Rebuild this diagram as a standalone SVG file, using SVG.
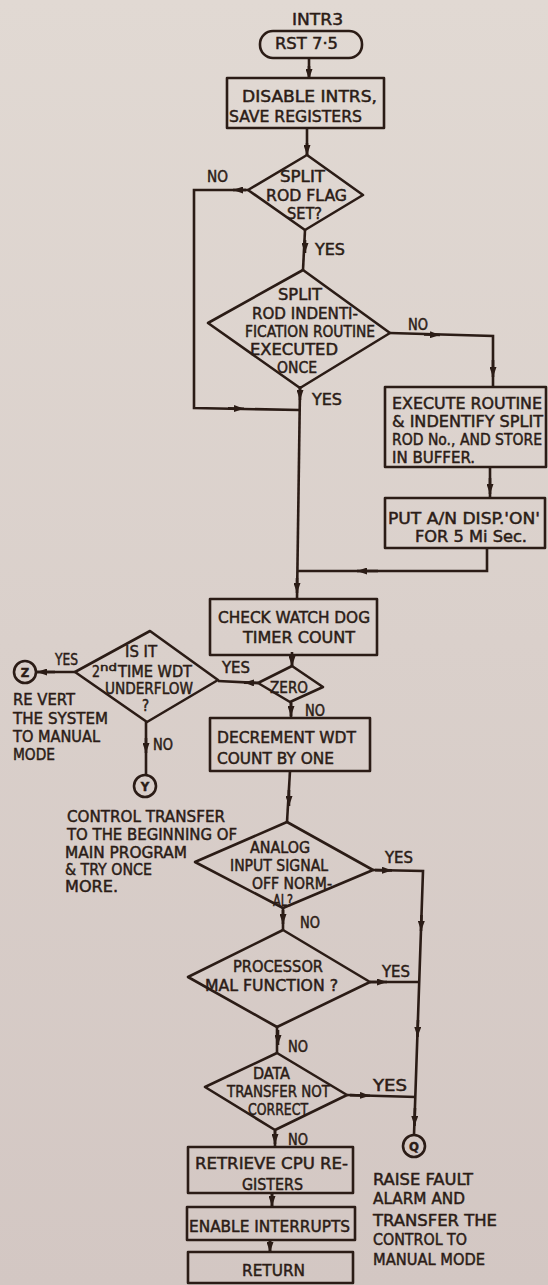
<svg xmlns="http://www.w3.org/2000/svg" width="548" height="1285" viewBox="0 0 548 1285">
<defs>
<linearGradient id="bg" x1="0" y1="0" x2="0" y2="1">
<stop offset="0" stop-color="#e1d9d3"/>
<stop offset="1" stop-color="#d3c7c3"/>
</linearGradient>
<marker id="ah" markerWidth="10" markerHeight="7" refX="10" refY="3.5" orient="auto" markerUnits="userSpaceOnUse">
<path d="M0,0 L10,3.5 L0,7 z" fill="#2b1c16"/>
</marker>
<style>
.s{fill:none;stroke:#2b1c16;stroke-width:2.6;stroke-linejoin:round}
.l{fill:none;stroke:#2b1c16;stroke-width:2.6}
.a{fill:none;stroke:#2b1c16;stroke-width:2.6;marker-end:url(#ah)}
text{font-family:"DejaVu Sans Condensed","DejaVu Sans",sans-serif;font-size:16px;fill:#2b1c16;stroke:#2b1c16;stroke-width:0.45}
.m{font-size:15px}
.d{font-size:15px}
.c{font-size:13px;font-weight:bold}
</style>
</defs>
<rect x="0" y="0" width="548" height="1285" fill="url(#bg)"/>

<g id="start">
<text x="292" y="25" textLength="51" lengthAdjust="spacingAndGlyphs">INTR3</text>
<rect class="s" x="260" y="31" width="102" height="27" rx="13"/>
<text x="275" y="49" textLength="63" lengthAdjust="spacingAndGlyphs">RST 7·5</text>
</g>

<g id="disable">
<rect class="s" x="227" y="78" width="157" height="50"/>
<text x="242" y="102" textLength="135" lengthAdjust="spacingAndGlyphs">DISABLE INTRS,</text>
<text x="229" y="122" textLength="133" lengthAdjust="spacingAndGlyphs">SAVE REGISTERS</text>
</g>

<g id="d_flag">
<polygon class="s" points="307,155 363,195 305,230 248,190"/>
<text class="d" x="280" y="182" textLength="45" lengthAdjust="spacingAndGlyphs">SPLIT</text>
<text class="d" x="266" y="201" textLength="81" lengthAdjust="spacingAndGlyphs">ROD FLAG</text>
<text class="d" x="287" y="219" textLength="35" lengthAdjust="spacingAndGlyphs">SET?</text>
</g>

<g id="d_ident">
<polygon class="s" points="303,270 390,333 300,388 208,323"/>
<text class="d" x="278" y="300" textLength="44" lengthAdjust="spacingAndGlyphs">SPLIT</text>
<text class="d" x="252" y="319" textLength="106" lengthAdjust="spacingAndGlyphs">ROD INDENTI-</text>
<text class="d" x="245" y="337" textLength="130" lengthAdjust="spacingAndGlyphs">FICATION ROUTINE</text>
<text class="d" x="250" y="355" textLength="88" lengthAdjust="spacingAndGlyphs">EXECUTED</text>
<text class="d" x="277" y="373" textLength="40" lengthAdjust="spacingAndGlyphs">ONCE</text>
</g>

<g id="execute">
<rect class="s" x="385" y="387" width="161" height="80"/>
<text x="392" y="409" textLength="150" lengthAdjust="spacingAndGlyphs">EXECUTE ROUTINE</text>
<text x="392" y="427" textLength="151" lengthAdjust="spacingAndGlyphs">&amp; INDENTIFY SPLIT</text>
<text x="392" y="445" textLength="150" lengthAdjust="spacingAndGlyphs">ROD No., AND STORE</text>
<text x="392" y="463" textLength="83" lengthAdjust="spacingAndGlyphs">IN BUFFER.</text>
</g>

<g id="put">
<rect class="s" x="385" y="498" width="160" height="50"/>
<text x="388" y="524" textLength="152" lengthAdjust="spacingAndGlyphs">PUT A/N DISP.'ON'</text>
<text x="415" y="542" textLength="112" lengthAdjust="spacingAndGlyphs">FOR 5 Mi Sec.</text>
</g>

<g id="check">
<rect class="s" x="210" y="599" width="167" height="56"/>
<text x="218" y="623" textLength="152" lengthAdjust="spacingAndGlyphs">CHECK WATCH DOG</text>
<text x="243" y="643" textLength="112" lengthAdjust="spacingAndGlyphs">TIMER COUNT</text>
</g>

<g id="d_zero">
<polygon class="s" points="292,666 323,687 290,702 258,683"/>
<text class="d" x="270" y="693" textLength="38" lengthAdjust="spacingAndGlyphs">ZERO</text>
</g>

<g id="d_2nd">
<polygon class="s" points="150,631 218,680 147,722 75,672"/>
<text class="d" x="125" y="657" textLength="32" lengthAdjust="spacingAndGlyphs">IS IT</text>
<text class="d" x="92" y="677" textLength="8" lengthAdjust="spacingAndGlyphs">2</text>
<text x="100" y="671" style="font-size:11px" textLength="17" lengthAdjust="spacingAndGlyphs">nd</text>
<text class="d" x="118" y="677" textLength="74" lengthAdjust="spacingAndGlyphs">TIME WDT</text>
<text class="d" x="105" y="694" textLength="88" lengthAdjust="spacingAndGlyphs">UNDERFLOW</text>
<text class="d" x="142" y="711">?</text>
</g>

<g id="conn_z">
<circle class="s" cx="25" cy="672" r="11"/>
<text class="c" x="25" y="677" text-anchor="middle">Z</text>
<text x="13" y="705" textLength="62" lengthAdjust="spacingAndGlyphs">RE VERT</text>
<text x="13" y="724" textLength="95" lengthAdjust="spacingAndGlyphs">THE SYSTEM</text>
<text x="13" y="742" textLength="87" lengthAdjust="spacingAndGlyphs">TO MANUAL</text>
<text x="13" y="760" textLength="42" lengthAdjust="spacingAndGlyphs">MODE</text>
</g>

<g id="conn_y">
<circle class="s" cx="145" cy="786" r="11"/>
<text class="c" x="145" y="791" text-anchor="middle">Y</text>
<text x="67" y="822" textLength="158" lengthAdjust="spacingAndGlyphs">CONTROL TRANSFER</text>
<text x="67" y="840" textLength="170" lengthAdjust="spacingAndGlyphs">TO THE BEGINNING OF</text>
<text x="65" y="858" textLength="122" lengthAdjust="spacingAndGlyphs">MAIN PROGRAM</text>
<text x="65" y="875" textLength="87" lengthAdjust="spacingAndGlyphs">&amp; TRY ONCE</text>
<text x="65" y="892" textLength="53" lengthAdjust="spacingAndGlyphs">MORE.</text>
</g>

<g id="decrement">
<rect class="s" x="210" y="718" width="160" height="53"/>
<text x="217" y="743" textLength="139" lengthAdjust="spacingAndGlyphs">DECREMENT WDT</text>
<text x="217" y="764" textLength="117" lengthAdjust="spacingAndGlyphs">COUNT BY ONE</text>
</g>

<g id="d_analog">
<polygon class="s" points="287,822 373,870 283,908 195,862"/>
<text class="d" x="250" y="853" textLength="60" lengthAdjust="spacingAndGlyphs">ANALOG</text>
<text class="d" x="230" y="871" textLength="98" lengthAdjust="spacingAndGlyphs">INPUT SIGNAL</text>
<text class="d" x="252" y="889" textLength="80" lengthAdjust="spacingAndGlyphs">OFF NORM-</text>
<text class="d" x="273" y="906" textLength="20" lengthAdjust="spacingAndGlyphs">AL?</text>
</g>

<g id="d_proc">
<polygon class="s" points="283,930 370,982 277,1027 188,977"/>
<text x="233" y="972" textLength="90" lengthAdjust="spacingAndGlyphs">PROCESSOR</text>
<text x="205" y="991" textLength="133" lengthAdjust="spacingAndGlyphs">MAL FUNCTION ?</text>
</g>

<g id="d_data">
<polygon class="s" points="277,1053 347,1095 275,1130 205,1087"/>
<text class="d" x="253" y="1079" textLength="37" lengthAdjust="spacingAndGlyphs">DATA</text>
<text class="d" x="227" y="1097" textLength="103" lengthAdjust="spacingAndGlyphs">TRANSFER NOT</text>
<text class="d" x="248" y="1115" textLength="60" lengthAdjust="spacingAndGlyphs">CORRECT</text>
</g>

<g id="conn_q">
<circle class="s" cx="414" cy="1146" r="11"/>
<text class="c" x="414" y="1151" text-anchor="middle">Q</text>
<text x="373" y="1185" textLength="100" lengthAdjust="spacingAndGlyphs">RAISE FAULT</text>
<text x="373" y="1204" textLength="92" lengthAdjust="spacingAndGlyphs">ALARM AND</text>
<text x="373" y="1226" textLength="124" lengthAdjust="spacingAndGlyphs">TRANSFER THE</text>
<text x="373" y="1245" textLength="94" lengthAdjust="spacingAndGlyphs">CONTROL TO</text>
<text x="373" y="1265" textLength="112" lengthAdjust="spacingAndGlyphs">MANUAL MODE</text>
</g>

<g id="retrieve">
<rect class="s" x="188" y="1147" width="165" height="46"/>
<text x="195" y="1169" textLength="153" lengthAdjust="spacingAndGlyphs">RETRIEVE CPU RE-</text>
<text x="242" y="1190" textLength="61" lengthAdjust="spacingAndGlyphs">GISTERS</text>
</g>

<g id="enable">
<rect class="s" x="187" y="1207" width="168" height="33"/>
<text x="189" y="1232" textLength="161" lengthAdjust="spacingAndGlyphs">ENABLE INTERRUPTS</text>
</g>

<g id="return">
<rect class="s" x="188" y="1252" width="165" height="31"/>
<text x="242" y="1276" textLength="63" lengthAdjust="spacingAndGlyphs">RETURN</text>
</g>

<g id="connectors">
<path class="l" d="M309,58 V78"/>
<path class="l" d="M307,128 V155"/>
<path class="l" d="M248,190 H194 V408 L299,410"/>
<path class="l" d="M305,230 L303,270"/>
<path class="l" d="M390,333 L493,336 V387"/>
<path class="l" d="M300,388 L297,599"/>
<path class="l" d="M490,467 V498"/>
<path class="l" d="M487,548 V571 H297"/>
<path class="l" d="M292,655 V666"/>
<path class="l" d="M258,683 L218,681"/>
<path class="l" d="M291,702 V718"/>
<path class="l" d="M75,672 H36"/>
<path class="l" d="M146,722 V775"/>
<path class="l" d="M290,771 L287,822"/>
<path class="l" d="M373,870 L423,871 L414,1135"/>
<path class="l" d="M283,908 V930"/>
<path class="l" d="M370,982 L418,982"/>
<path class="l" d="M277,1027 V1053"/>
<path class="l" d="M347,1095 L416,1097"/>
<path class="l" d="M275,1130 V1147"/>
<path class="l" d="M272,1193 V1207"/>
<path class="l" d="M270,1240 V1252"/>

<path class="a" d="M309,66 V79"/>
<path class="a" d="M307,143 V155"/>
<path class="a" d="M246,190 H233"/>
<path class="a" d="M228,408.4 L244,408.7"/>
<path class="a" d="M305,240 V253"/>
<path class="a" d="M424,334.5 L440,335"/>
<path class="a" d="M493,360 V377"/>
<path class="a" d="M300,386 V400"/>
<path class="a" d="M297,578 V593"/>
<path class="a" d="M490,478 V494"/>
<path class="a" d="M378,571 H357"/>
<path class="a" d="M292,652 V666"/>
<path class="a" d="M258,683 L244,682.6"/>
<path class="a" d="M291,703 V716"/>
<path class="a" d="M55,672 H37"/>
<path class="a" d="M146,738 V753"/>
<path class="a" d="M289,790 V806"/>
<path class="a" d="M375,870.1 L392,870.4"/>
<path class="a" d="M421.5,915 L421,931"/>
<path class="a" d="M370,982 L387,982"/>
<path class="a" d="M418,1020 L417.5,1037"/>
<path class="a" d="M283,910 V924"/>
<path class="a" d="M278,1030 V1045"/>
<path class="a" d="M350,1095.1 L370,1095.7"/>
<path class="a" d="M415,1108 L414.5,1126"/>
<path class="a" d="M275,1131 V1144"/>
<path class="a" d="M272,1193 V1206"/>
<path class="a" d="M270,1240 V1252"/>
</g>

<g id="labels">
<text class="m" x="207" y="182" textLength="21" lengthAdjust="spacingAndGlyphs">NO</text>
<text class="m" x="315" y="255" textLength="30" lengthAdjust="spacingAndGlyphs">YES</text>
<text class="m" x="408" y="330" textLength="20" lengthAdjust="spacingAndGlyphs">NO</text>
<text class="m" x="312" y="405" textLength="30" lengthAdjust="spacingAndGlyphs">YES</text>
<text class="m" x="222" y="673" textLength="28" lengthAdjust="spacingAndGlyphs">YES</text>
<text class="m" x="305" y="716" textLength="20" lengthAdjust="spacingAndGlyphs">NO</text>
<text class="m" x="55" y="665" textLength="23" lengthAdjust="spacingAndGlyphs">YES</text>
<text class="m" x="153" y="750" textLength="20" lengthAdjust="spacingAndGlyphs">NO</text>
<text class="m" x="385" y="863" textLength="28" lengthAdjust="spacingAndGlyphs">YES</text>
<text class="m" x="300" y="928" textLength="20" lengthAdjust="spacingAndGlyphs">NO</text>
<text class="m" x="382" y="977" textLength="28" lengthAdjust="spacingAndGlyphs">YES</text>
<text class="m" x="288" y="1052" textLength="20" lengthAdjust="spacingAndGlyphs">NO</text>
<text class="m" x="373" y="1091" textLength="34" lengthAdjust="spacingAndGlyphs">YES</text>
<text class="m" x="288" y="1145" textLength="20" lengthAdjust="spacingAndGlyphs">NO</text>
</g>
</svg>
